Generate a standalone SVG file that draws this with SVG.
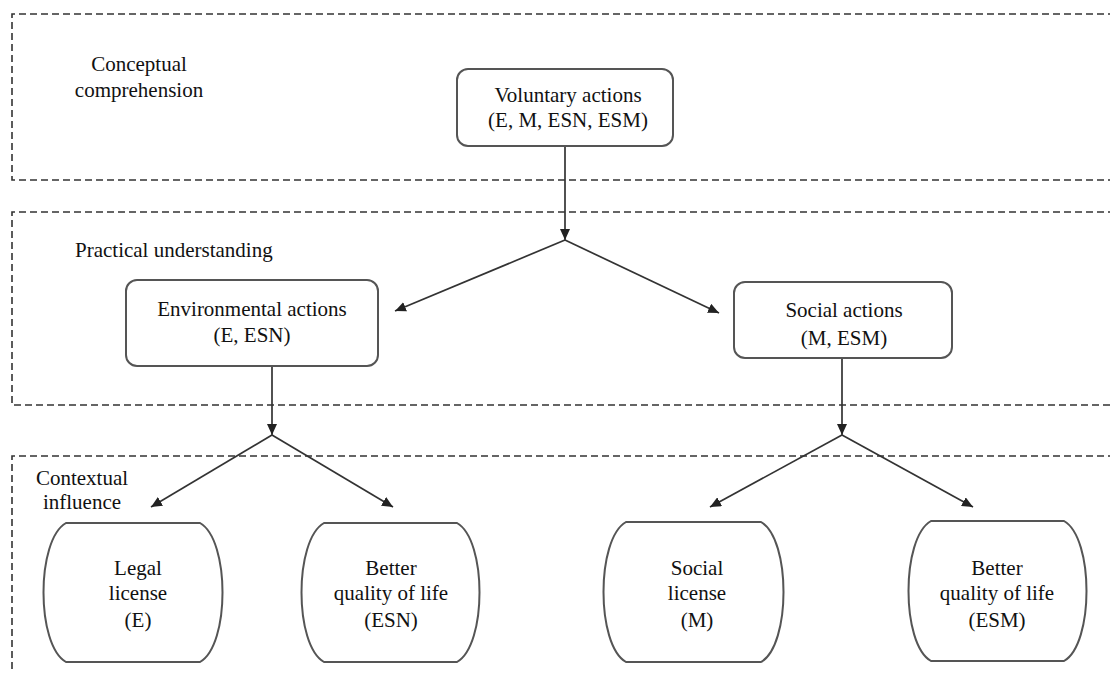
<svg xmlns="http://www.w3.org/2000/svg" width="1110" height="673" viewBox="0 0 1110 673">
<style>
text{font-family:"Liberation Serif","Times New Roman",serif;font-size:21px;fill:#111}
.c{text-anchor:middle}
.zone{fill:none;stroke:#333;stroke-width:1.6;stroke-dasharray:7 4}
.box{fill:#fff;stroke:#555;stroke-width:2}
.ln{fill:none;stroke:#333;stroke-width:1.7}
</style>
<defs>
<marker id="ah" markerUnits="userSpaceOnUse" markerWidth="12" markerHeight="10" refX="11" refY="5" orient="auto">
<path d="M0,0 L11,5 L0,10 z" fill="#222"/>
</marker>
</defs>
<g id="zones">
<path class="zone" d="M1115,14 H12 V180 H1115"/>
<path class="zone" d="M1115,212 H12 V405 H1115"/>
<path class="zone" d="M1115,456 H12 V680"/>
</g>
<g id="labels">
<text class="c" x="139" y="71">Conceptual</text>
<text class="c" x="139" y="97">comprehension</text>
<text x="75" y="257">Practical understanding</text>
<text class="c" x="82" y="485">Contextual</text>
<text class="c" x="82" y="509">influence</text>
</g>
<g id="connectors">
<line class="ln" x1="565" y1="146" x2="565" y2="240" marker-end="url(#ah)"/>
<line class="ln" x1="565" y1="240" x2="395" y2="311" marker-end="url(#ah)"/>
<line class="ln" x1="565" y1="240" x2="719" y2="313" marker-end="url(#ah)"/>
<line class="ln" x1="272" y1="366" x2="272" y2="435" marker-end="url(#ah)"/>
<line class="ln" x1="272" y1="435" x2="151" y2="507" marker-end="url(#ah)"/>
<line class="ln" x1="272" y1="435" x2="393" y2="507" marker-end="url(#ah)"/>
<line class="ln" x1="842" y1="358" x2="842" y2="435" marker-end="url(#ah)"/>
<line class="ln" x1="842" y1="435" x2="710" y2="507" marker-end="url(#ah)"/>
<line class="ln" x1="842" y1="435" x2="973" y2="507" marker-end="url(#ah)"/>
</g>
<g id="voluntary">
<rect class="box" x="457" y="69" width="216" height="77" rx="11"/>
<text class="c" x="568" y="102">Voluntary actions</text>
<text class="c" x="568" y="127">(E, M, ESN, ESM)</text>
</g>
<g id="environmental">
<rect class="box" x="126" y="280" width="252" height="86" rx="11"/>
<text class="c" x="252" y="316">Environmental actions</text>
<text class="c" x="252" y="342">(E, ESN)</text>
</g>
<g id="social">
<rect class="box" x="734" y="282" width="218" height="76" rx="11"/>
<text class="c" x="844" y="317">Social actions</text>
<text class="c" x="844" y="345">(M, ESM)</text>
</g>
<g id="legal">
<path class="box" d="M66,523 H200 C230,540 230,645 200,662 H66 C36,645 36,540 66,523 Z"/>
<text class="c" x="138" y="575">Legal</text>
<text class="c" x="138" y="600">license</text>
<text class="c" x="138" y="627">(E)</text>
</g>
<g id="better-esn">
<path class="box" d="M324,523 H457 C487,540 487,645 457,662 H324 C294,645 294,540 324,523 Z"/>
<text class="c" x="391" y="575">Better</text>
<text class="c" x="391" y="600">quality of life</text>
<text class="c" x="391" y="627">(ESN)</text>
</g>
<g id="social-license">
<path class="box" d="M626,522 H761 C791,539 791,645 761,662 H626 C596,645 596,539 626,522 Z"/>
<text class="c" x="697" y="575">Social</text>
<text class="c" x="697" y="600">license</text>
<text class="c" x="697" y="627">(M)</text>
</g>
<g id="better-esm">
<path class="box" d="M931,521 H1064 C1094,538 1094,644 1064,661 H931 C901,644 901,538 931,521 Z"/>
<text class="c" x="997" y="575">Better</text>
<text class="c" x="997" y="600">quality of life</text>
<text class="c" x="997" y="627">(ESM)</text>
</g>
</svg>
